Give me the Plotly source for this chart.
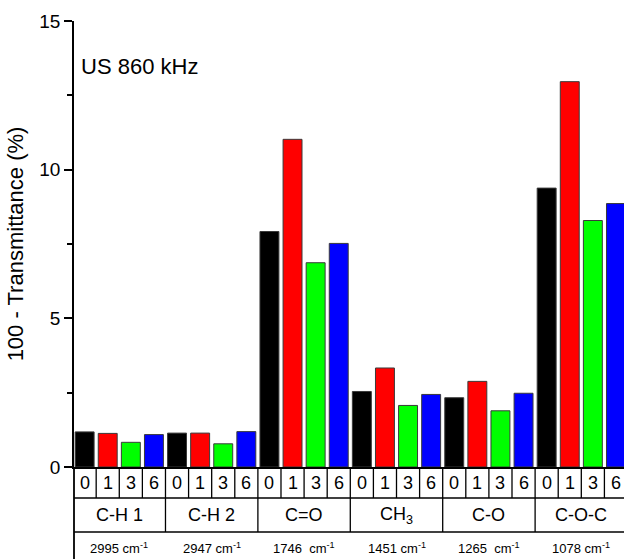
import plotly.graph_objects as go

# ---- data ----
groups = ["C-H 1", "C-H 2", "C=O", "CH<sub>3</sub>", "C-O", "C-O-C"]
wavenumbers = ["2995 cm<sup>-1</sup>", "2947 cm<sup>-1</sup>", "1746\u00a0 cm<sup>-1</sup>",
               "1451 cm<sup>-1</sup>", "1265\u00a0 cm<sup>-1</sup>", "1078 cm<sup>-1</sup>"]
times = ["0", "1", "3", "6"]
t0 = [1.18, 1.14, 7.92, 2.54, 2.33, 9.38]
t1 = [1.13, 1.14, 11.02, 3.33, 2.88, 12.96]
t3 = [0.83, 0.78, 6.87, 2.07, 1.89, 8.29]
t6 = [1.09, 1.19, 7.52, 2.44, 2.48, 8.86]
series = [t0, t1, t3, t6]
colors = ["#000000", "#FF0000", "#00FF00", "#0000FF"]

FONT = "Arial, Liberation Sans, sans-serif"
W, H = 624, 559
ML, MR, MT, MB = 74, 0, 21, 92
PH = H - MT - MB


def py(p):
    # pixel row -> paper y
    return (H - MB - p) / PH


gx = list(range(len(groups)))
n = len(times)

fig = go.Figure()
for k, vals in enumerate(series):
    fig.add_trace(go.Bar(
        x=gx, y=vals, name=times[k],
        marker=dict(color=colors[k], line=dict(color="#3a3a3a", width=1)),
        showlegend=False,
    ))

shapes = []
annotations = []
# cell boundaries in the first row (one cell per bar)
bounds = sorted(set(round(g - 0.5 + k / n, 4) for g in gx for k in range(n + 1)))
for b in bounds:
    shapes.append(dict(type="line", xref="x", yref="paper", x0=b, x1=b,
                       y0=0, y1=py(498), line=dict(color="black", width=1.3)))
# group boundaries in second row
for g in range(len(groups) + 1):
    shapes.append(dict(type="line", xref="x", yref="paper", x0=g - 0.5, x1=g - 0.5,
                       y0=py(498), y1=py(532), line=dict(color="black", width=1.3)))
# horizontal rules
for p in (498, 532):
    shapes.append(dict(type="line", xref="paper", yref="paper", x0=0, x1=1,
                       y0=py(p), y1=py(p), line=dict(color="black", width=1.3)))
# left border running down through the table
shapes.append(dict(type="line", xref="paper", yref="paper", x0=0, x1=0,
                   y0=0, y1=py(H), line=dict(color="black", width=1.8)))

for g in gx:
    for k in range(n):
        annotations.append(dict(x=g - 0.5 + (k + 0.5) / n, y=py(483), xref="x", yref="paper",
                                text=times[k], showarrow=False,
                                font=dict(family=FONT, size=18, color="black"),
                                xanchor="center", yanchor="middle"))
    annotations.append(dict(x=g, y=py(515), xref="x", yref="paper", text=groups[g],
                            showarrow=False, font=dict(family=FONT, size=18, color="black"),
                            xanchor="center", yanchor="middle"))
    annotations.append(dict(x=g, y=py(548), xref="x", yref="paper", text=wavenumbers[g],
                            showarrow=False, font=dict(family=FONT, size=13, color="black"),
                            xanchor="center", yanchor="middle"))

annotations.append(dict(x=(79 - ML) / (W - ML - MR), y=py(67), xref="paper", yref="paper",
                        text="US 860 kHz", showarrow=False,
                        font=dict(family=FONT, size=22, color="black"),
                        xanchor="left", yanchor="middle"))

fig.update_layout(
    width=W, height=H,
    margin=dict(l=ML, r=MR, t=MT, b=MB, pad=0),
    paper_bgcolor="white", plot_bgcolor="white",
    barmode="group", bargap=0, bargroupgap=0.18,
    font=dict(family=FONT, color="black"),
    shapes=shapes, annotations=annotations,
    xaxis=dict(range=[-0.49, 5.462], showline=True, linecolor="black", linewidth=1.5,
               showticklabels=False, ticks="", showgrid=False, zeroline=False),
    yaxis=dict(range=[0, 15], dtick=5, tick0=0, showline=True, linecolor="black", linewidth=1.8,
               ticks="outside", ticklen=8, tickwidth=1.5, tickcolor="black",
               minor=dict(dtick=2.5, ticks="outside", ticklen=5, tickwidth=1.5, tickcolor="black"),
               showgrid=False, zeroline=False,
               tickfont=dict(family=FONT, size=19, color="black"),
               title=dict(text="100 - Transmittance (%)", standoff=9,
                          font=dict(family=FONT, size=22, color="black"))),
)

fig.write_html("out.html", config={"displayModeBar": False})
